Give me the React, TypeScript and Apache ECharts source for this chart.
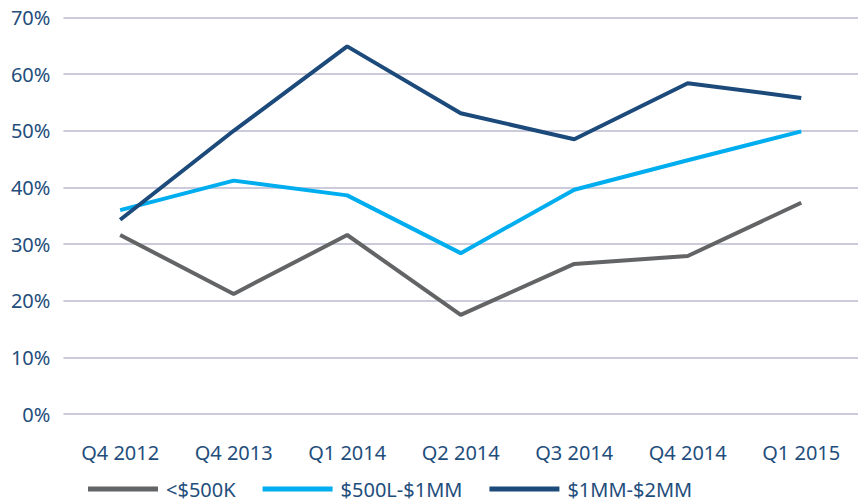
import React, { useEffect, useRef } from "react";
import * as echarts from "echarts";

const categories = ["Q4 2012", "Q4 2013", "Q1 2014", "Q2 2014", "Q3 2014", "Q4 2014", "Q1 2015"];
const seriesNames = ["<$500K", "$500L-$1MM", "$1MM-$2MM"];
const under500k = [31.6, 21.2, 31.6, 17.5, 26.5, 27.9, 37.3];
const from500kTo1mm = [36.0, 41.2, 38.6, 28.4, 39.6, 44.8, 49.9];
const from1mmTo2mm = [34.3, 50.0, 64.9, 53.1, 48.5, 58.4, 55.8];
const colors = ["#636466", "#00adee", "#1b4a7b"];
const textColor = "#1f4e7c";
const font = "'Noto Sans', sans-serif";

export default function App() {
  const ref = useRef<HTMLDivElement>(null);
  useEffect(() => {
    if (!ref.current) return;
    const chart = echarts.init(ref.current, null, { renderer: "svg" });
    const values = [under500k, from500kTo1mm, from1mmTo2mm];
    chart.setOption({
      animation: false,
      grid: { left: 63.4, right: -11.6, top: 17.5, bottom: 89, containLabel: false },
      legend: {
        left: 83,
        top: 474,
        itemWidth: 70,
        itemHeight: 5,
        itemGap: 27,
        icon: "rect",
        textStyle: { color: textColor, fontSize: 20, fontFamily: font, padding: [0, 0, 0, 3] },
        data: seriesNames,
      },
      xAxis: {
        type: "category",
        data: categories,
        boundaryGap: true,
        axisLine: { show: false },
        axisTick: { show: false },
        axisLabel: { color: textColor, fontSize: 20, fontFamily: font, margin: 28 },
      },
      yAxis: {
        type: "value",
        min: 0,
        max: 70,
        interval: 10,
        axisLine: { show: false },
        axisTick: { show: false },
        axisLabel: { color: textColor, fontSize: 20, fontFamily: font, margin: 13, formatter: "{value}%" },
        splitLine: { lineStyle: { color: "#cbcbdb", width: 2 } },
      },
      series: seriesNames.map((name, i) => ({
        name,
        type: "line",
        data: values[i],
        symbol: "none",
        lineStyle: { color: colors[i], width: 4 },
        itemStyle: { color: colors[i] },
      })),
    });
    return () => chart.dispose();
  }, []);
  return (
    <div
      ref={ref}
      style={{ position: "absolute", left: 0, top: 0, width: 858, height: 503, background: "#fff" }}
    />
  );
}
